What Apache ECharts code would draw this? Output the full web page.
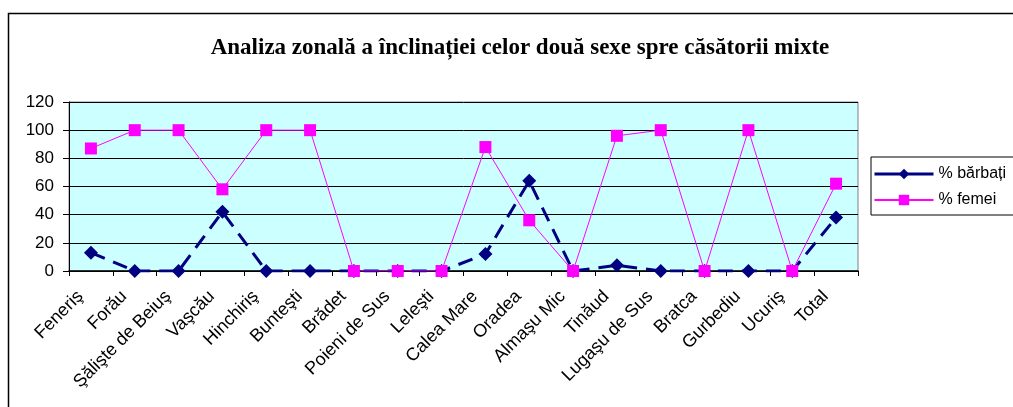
<!DOCTYPE html>
<html><head><meta charset="utf-8">
<script src="https://cdn.jsdelivr.net/npm/echarts@6/dist/echarts.min.js"></script>
<style>html,body{margin:0;padding:0;background:#fff}#c{width:1013px;height:407px}</style>
</head><body><div id="c"></div>
<script>
const categories = ['Feneriş','Forău','Şălişte de Beiuş','Vaşcău','Hinchiriş','Bunteşti','Brădet','Poieni de Sus','Leleşti','Calea Mare','Oradea','Almaşu Mic','Tinăud','Lugaşu de Sus','Bratca','Gurbediu','Ucuriş','Total'];
const barbati = [13,0,0,42,0,0,0,0,0,12,64,0,4,0,0,0,0,38];
const femei = [87,100,100,58,100,100,0,0,0,88,36,0,96,100,0,100,0,62];
const yTicks = [0,20,40,60,80,100,120];

const chart = echarts.init(document.getElementById('c'), null, {renderer:'canvas'});
chart.setOption({
  animation:false,
  title:{text:'Analiza zonală a înclinației celor două sexe spre căsătorii mixte', left:515, top:32, textAlign:'center',
    textStyle:{fontFamily:'Liberation Serif', fontWeight:'bold', fontSize:23, color:'#000'}},
  graphic:[{type:'rect', shape:{x:8.5,y:13.5,width:1030,height:420}, style:{fill:null, stroke:'#000', lineWidth:1.5}, silent:true}],
  legend:{left:871, top:157, orient:'vertical', borderColor:'#000', borderWidth:1, padding:[9,10,7,2], itemGap:10,
    itemWidth:59, itemHeight:13, textStyle:{fontFamily:'Liberation Sans', fontSize:16, color:'#000'},
    data:[{name:'% bărbați', lineStyle:{type:'solid', width:3}}, {name:'% femei'}]},
  grid:{left:69, right:155, top:102, bottom:136, show:true, backgroundColor:'#CCFFFF', borderColor:'#808080', borderWidth:1},
  xAxis:{type:'category', data:categories, boundaryGap:true,
    axisLine:{lineStyle:{color:'#000', width:1.5}}, axisTick:{show:true, alignWithLabel:false, length:5, lineStyle:{color:'#000'}},
    axisLabel:{rotate:45, interval:0, fontFamily:'Liberation Sans', fontSize:18, color:'#000', margin:12, padding:[0,15,0,0]}},
  yAxis:{type:'value', min:0, max:120, interval:20,
    axisLine:{show:true, lineStyle:{color:'#000'}}, axisTick:{show:true, length:6, lineStyle:{color:'#000'}},
    splitLine:{lineStyle:{color:'#000', width:1}},
    axisLabel:{fontFamily:'Liberation Sans', fontSize:17, color:'#000', margin:15, formatter:v=>yTicks.includes(v)?String(v):''}},
  series:[
    {name:'% bărbați', type:'line', data:barbati, symbol:'diamond', symbolSize:14,
      lineStyle:{color:'#000080', width:3, type:[15,9]}, itemStyle:{color:'#000080'}},
    {name:'% femei', type:'line', data:femei, symbol:'rect', symbolSize:12,
      lineStyle:{color:'#FF00FF', width:1}, itemStyle:{color:'#FF00FF'}}
  ]
});
</script></body></html>
